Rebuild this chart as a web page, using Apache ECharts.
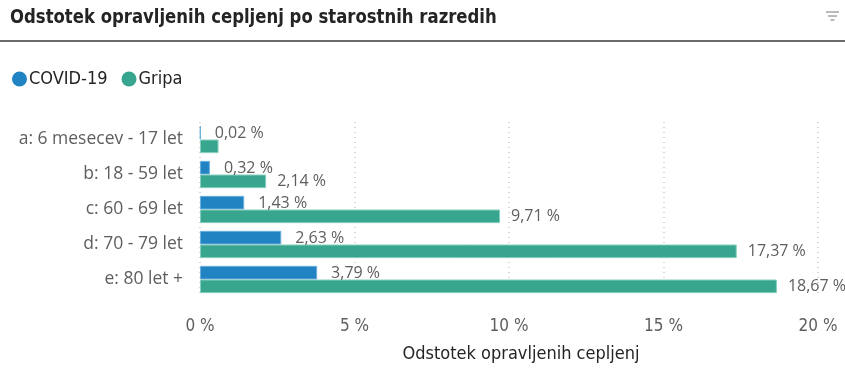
<!DOCTYPE html>
<html><head><meta charset="utf-8">
<script src="https://cdn.jsdelivr.net/npm/echarts@6/dist/echarts.min.js"></script>
<style>html,body{margin:0;padding:0;background:#fff}#c{width:845px;height:373px}</style>
</head><body><div id="c"></div>
<script>
const titleText = 'Odstotek opravljenih cepljenj po starostnih razredih';
const categories = ['a: 6 mesecev - 17 let','b: 18 - 59 let','c: 60 - 69 let','d: 70 - 79 let','e: 80 let +'];
const covidValues = [0.02, 0.32, 1.43, 2.63, 3.79];
const gripaValues = [0.60, 2.14, 9.71, 17.37, 18.67];
const gripaLabelShown = [false, true, true, true, true];
const seriesNames = ['COVID-19','Gripa'];
const axisTitle = 'Odstotek opravljenih cepljenj';

const fmt = v => v.toFixed(2).replace('.', ',') + ' %';
const narrow = '"Liberation Sans Narrow", "DejaVu Sans Condensed", sans-serif';
const body = '"Open Sans", "Noto Sans", sans-serif';

const chart = echarts.init(document.getElementById('c'), null, {renderer:'canvas'});
chart.setOption({
  animation:false,
  graphic:[
    {type:'text', x:10, y:9, scaleX:0.965, style:{text:titleText, font:'bold 19px ' + narrow, fill:'#252423'}},
    {type:'rect', shape:{x:0,y:40,width:845,height:2}, style:{fill:'#6b6b6b'}},
    {type:'line', shape:{x1:826,y1:12,x2:839,y2:12}, style:{stroke:'#777',lineWidth:1}},
    {type:'line', shape:{x1:828,y1:16,x2:837,y2:16}, style:{stroke:'#777',lineWidth:1}},
    {type:'line', shape:{x1:830.5,y1:20,x2:834.5,y2:20}, style:{stroke:'#777',lineWidth:1}}
  ],
  legend:{
    left:7, top:65, icon:'circle', itemWidth:15, itemHeight:15, itemGap:14,
    itemStyle:{borderWidth:0},
    textStyle:{fontFamily:narrow, fontSize:18, color:'#252423', padding:[0,0,0,-3]},
    data:seriesNames
  },
  grid:{left:200, right:27, top:122, bottom:76, containLabel:false},
  xAxis:{
    type:'value', min:0, max:20, interval:5,
    axisLine:{show:false}, axisTick:{show:false},
    splitLine:{show:true, lineStyle:{type:[1,4], color:'#c8c8c8', width:1.5}},
    axisLabel:{formatter:'{value} %', fontFamily:narrow, fontSize:17, color:'#605e5c', margin:21},
    name:axisTitle, nameLocation:'middle', nameGap:48,
    nameTextStyle:{fontFamily:narrow, fontSize:18, color:'#252423', padding:[0,0,0,24]}
  },
  yAxis:{
    type:'category', inverse:true, data:categories,
    axisLine:{show:false}, axisTick:{show:false}, splitLine:{show:false},
    axisLabel:{fontFamily:body, fontSize:17.5, color:'#605e5c', margin:17}
  },
  series:[
    {name:seriesNames[0], type:'bar', data:covidValues, barGap:'0%', barCategoryGap:'22%',
     itemStyle:{color:'#2283c3', borderColor:'#6aaedb', borderWidth:1},
     label:{show:true, position:'right', distance:14, offset:[0,1], formatter:p=>fmt(p.value), fontFamily:body, fontSize:16, color:'#605e5c'}},
    {name:seriesNames[1], type:'bar',
     data:gripaValues.map((v,i)=>({value:v, label:{show:gripaLabelShown[i]}})),
     itemStyle:{color:'#38a68e', borderColor:'#86cdbd', borderWidth:1},
     label:{show:true, position:'right', distance:11, formatter:p=>fmt(p.value), fontFamily:body, fontSize:16, color:'#605e5c'}}
  ]
});
</script></body></html>
